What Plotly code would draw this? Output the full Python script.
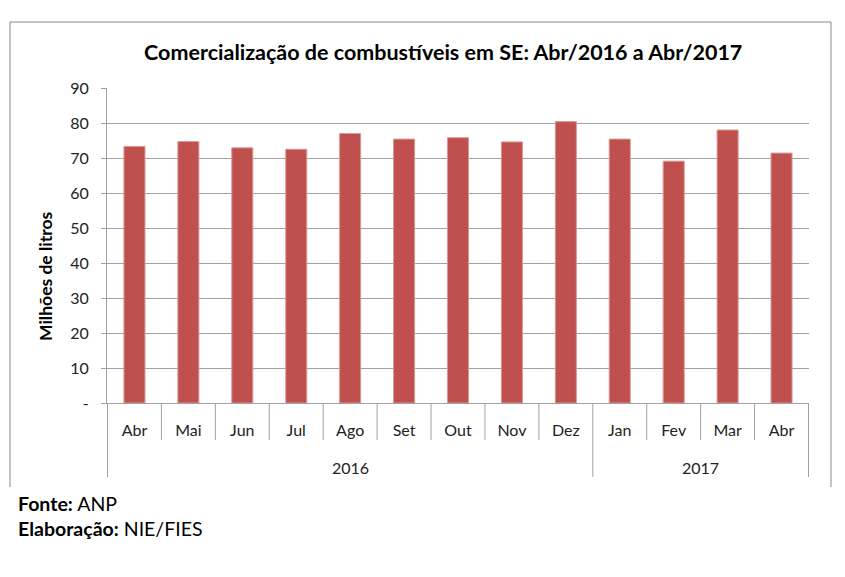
import plotly.graph_objects as go

years = ["2016"] * 9 + ["2017"] * 4
months = ["Abr", "Mai", "Jun", "Jul", "Ago", "Set", "Out", "Nov", "Dez", "Jan", "Fev", "Mar", "Abr"]
values = [73.3, 74.7, 72.9, 72.5, 77.0, 75.4, 75.8, 74.6, 80.4, 75.4, 69.1, 78.0, 71.4]
y_ticks = [0, 10, 20, 30, 40, 50, 60, 70, 80, 90]
y_labels = ["-", "10", "20", "30", "40", "50", "60", "70", "80", "90"]

FONT = "Lato"
GRAY = "#A0A0A0"
keys = [f"{y}-{m}" for y, m in zip(years, months)]

fig = go.Figure(go.Bar(
    x=keys, y=values,
    marker=dict(color="#C0504D", line=dict(color="#D99795", width=1)),
))

PLOT_H = 315
PLOT_W = 702
fig.update_layout(
    width=837, height=569,
    margin=dict(l=99, r=36, t=80, b=174),
    paper_bgcolor="white", plot_bgcolor="white",
    bargap=0.61,
    showlegend=False,
    font=dict(family=FONT, size=16, color="#222"),
    title=dict(text="<b>Comercialização de combustíveis em SE: Abr/2016 a Abr/2017</b>",
               x=0.520, xanchor="center", y=0.9227, yanchor="middle",
               font=dict(family=FONT, size=21.5, color="#000")),
    xaxis=dict(type="category", categoryorder="array", categoryarray=keys,
               tickvals=keys, ticktext=months,
               showline=True, linecolor=GRAY, linewidth=1, ticks="",
               ticklabelstandoff=13,
               tickfont=dict(family=FONT, size=16, color="#222")),
    yaxis=dict(range=[0, 90], tickvals=y_ticks, ticktext=y_labels,
               showgrid=True, gridcolor=GRAY, gridwidth=1,
               showline=True, linecolor=GRAY, ticks="outside", ticklen=5, tickcolor=GRAY,
               zeroline=False, ticklabelstandoff=9,
               tickfont=dict(family=FONT, size=16, color="#222")),
)

# y-axis title (placed as in the original, slightly below centre)
fig.add_annotation(text="<b>Milhões de litros</b>", xref="paper", yref="paper",
                   x=-62 / PLOT_W, y=127 / PLOT_H, textangle=-90,
                   xanchor="center", yanchor="middle", showarrow=False,
                   font=dict(family=FONT, size=17.5, color="#000"))

# category dividers below the axis, derived from the data order
month_depth = -37 / PLOT_H
year_depth = -74 / PLOT_H
n = len(keys)
for i in range(n + 1):
    b = i - 0.5
    is_year_edge = i == 0 or i == n or years[i] != years[i - 1]
    fig.add_shape(type="line", xref="x", yref="paper", x0=b, x1=b, y0=0,
                  y1=year_depth if is_year_edge else month_depth,
                  line=dict(color=GRAY, width=1))

# year labels centred under their groups
for yr in dict.fromkeys(years):
    idx = [i for i, y in enumerate(years) if y == yr]
    fig.add_annotation(text=yr, xref="x", yref="paper", x=sum(idx) / len(idx), y=-64 / PLOT_H,
                       xanchor="center", yanchor="middle", showarrow=False,
                       font=dict(family=FONT, size=16, color="#222"))

# outer frame (left, top, right sides)
fig.add_shape(type="path", xref="paper", yref="paper",
              path="M -0.1382,-0.2667 L -0.1382,1.2095 L 1.0313,1.2095 L 1.0313,-0.2667",
              line=dict(color="#888", width=1))

fig.add_annotation(text="<b>Fonte:</b> ANP", xref="paper", yref="paper",
                   x=-0.130, y=-100 / PLOT_H, xanchor="left", yanchor="middle", showarrow=False,
                   font=dict(family=FONT, size=19.5, color="#000"))
fig.add_annotation(text="<b>Elaboração:</b> NIE/FIES", xref="paper", yref="paper",
                   x=-0.130, y=-125 / PLOT_H, xanchor="left", yanchor="middle", showarrow=False,
                   font=dict(family=FONT, size=19.5, color="#000"))

fig.write_html("out.html")
